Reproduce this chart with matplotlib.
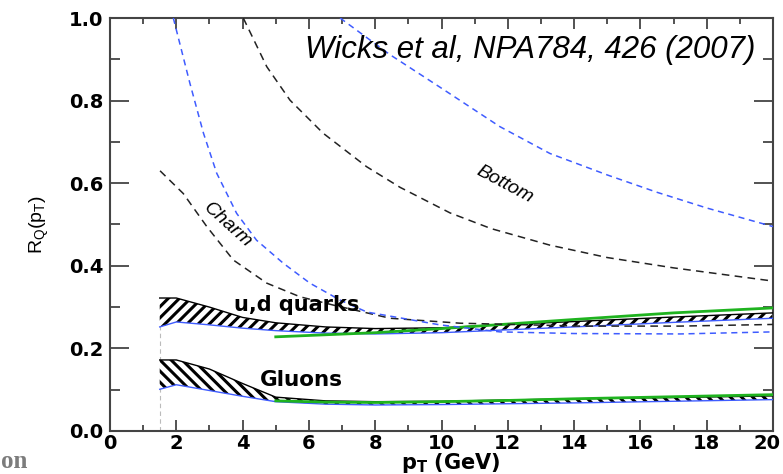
import matplotlib
matplotlib.use('Agg')
import matplotlib.pyplot as plt
import matplotlib.transforms as mtransforms
from matplotlib.ticker import MultipleLocator, FormatStrFormatter

plt.rcParams['font.family'] = ['Liberation Sans', 'DejaVu Sans']
plt.rcParams['hatch.linewidth'] = 2.2
plt.rcParams['mathtext.fontset'] = 'custom'
plt.rcParams['mathtext.rm'] = 'DejaVu Sans:bold'

# ---------------- data ----------------
charm_black_x = [1.51, 2.21, 2.92, 3.72, 4.73, 5.73, 6.73, 8.45, 10.56, 14.2, 17.2, 20.0]
charm_black_y = [0.630, 0.575, 0.495, 0.414, 0.358, 0.325, 0.305, 0.273, 0.261, 0.254, 0.254, 0.258]

charm_blue_x = [1.91, 2.41, 2.82, 3.22, 3.82, 4.42, 5.23, 6.03, 6.94, 7.75, 9.95, 11.76, 14.0, 17.2, 20.0]
charm_blue_y = [1.000, 0.842, 0.721, 0.624, 0.527, 0.462, 0.406, 0.358, 0.317, 0.288, 0.257, 0.240, 0.236, 0.235, 0.240]

bottom_black_x = [4.02, 4.73, 5.43, 6.43, 7.74, 8.75, 10.26, 11.5, 13.27, 15.0, 17.0, 20.0]
bottom_black_y = [1.000, 0.882, 0.801, 0.721, 0.640, 0.590, 0.528, 0.490, 0.450, 0.420, 0.395, 0.363]

bottom_blue_x = [6.94, 8.45, 10.0, 11.76, 13.27, 15.0, 16.5, 18.0, 20.0]
bottom_blue_y = [1.000, 0.911, 0.830, 0.737, 0.672, 0.620, 0.578, 0.540, 0.495]

band_x = [1.5, 2.0, 3.0, 4.0, 5.0, 6.5, 8.0, 10.0, 12.0, 14.0, 17.0, 20.0]
ud_upper = [0.322, 0.322, 0.300, 0.275, 0.262, 0.252, 0.248, 0.250, 0.258, 0.265, 0.276, 0.286]
ud_lower = [0.252, 0.264, 0.257, 0.249, 0.243, 0.237, 0.235, 0.238, 0.245, 0.252, 0.263, 0.273]
gl_upper = [0.172, 0.172, 0.150, 0.115, 0.082, 0.073, 0.071, 0.072, 0.075, 0.078, 0.081, 0.085]
gl_lower = [0.101, 0.112, 0.098, 0.084, 0.071, 0.065, 0.063, 0.064, 0.066, 0.068, 0.072, 0.076]

ud_green_x = [5.0, 8.0, 10.0, 12.0, 14.0, 17.0, 20.0]
ud_green_y = [0.228, 0.238, 0.248, 0.259, 0.270, 0.286, 0.298]
gl_green_x = [5.0, 6.5, 8.0, 10.0, 12.0, 14.0, 17.0, 20.0]
gl_green_y = [0.073, 0.070, 0.069, 0.071, 0.074, 0.078, 0.083, 0.088]

cut_x = [1.5, 1.5]
cut_y = [0.0, 0.257]

x_ticks = [0, 2, 4, 6, 8, 10, 12, 14, 16, 18, 20]
y_ticks = [0.0, 0.2, 0.4, 0.6, 0.8, 1.0]

# ---------------- figure ----------------
W, H = 783, 474
fig = plt.figure(figsize=(W / 100, H / 100), dpi=100)
ax = fig.add_axes([110 / W, 43 / H, 663 / W, 413 / H])

blue = '#3f5cff'
green = '#1fb31f'

ax.plot(cut_x, cut_y, color='#bbbbbb', lw=0.8, ls=(0, (4, 3)), zorder=1)

ax.fill_between(band_x, ud_lower, ud_upper, facecolor='white', edgecolor='black',
                hatch='///', linewidth=0, zorder=2)
ax.fill_between(band_x, gl_lower, gl_upper, facecolor='white', edgecolor='black',
                hatch='\\\\\\', linewidth=0, zorder=2)
ax.plot(band_x, ud_upper, color='black', lw=1.0, zorder=3)
ax.plot(band_x, gl_upper, color='black', lw=1.0, zorder=3)
ax.plot(band_x, ud_lower, color=blue, lw=1.0, zorder=3)
ax.plot(band_x, gl_lower, color=blue, lw=1.0, zorder=3)

ax.plot(ud_green_x, ud_green_y, color=green, lw=2.0, zorder=4)
ax.plot(gl_green_x, gl_green_y, color=green, lw=2.0, zorder=4)

ax.plot(charm_black_x, charm_black_y, color='#222222', lw=1.1, ls=(0, (5, 3.5)), zorder=5)
ax.plot(bottom_black_x, bottom_black_y, color='#222222', lw=1.1, ls=(0, (5, 3.5)), zorder=5)
ax.plot(charm_blue_x, charm_blue_y, color=blue, lw=1.1, ls=(0, (4, 3)), zorder=5)
ax.plot(bottom_blue_x, bottom_blue_y, color=blue, lw=1.1, ls=(0, (4, 3)), zorder=5)

ax.set_xlim(0, 20)
ax.set_ylim(0, 1.0)
ax.set_xticks(x_ticks)
ax.set_yticks(y_ticks)
ax.xaxis.set_minor_locator(MultipleLocator(1))
ax.yaxis.set_minor_locator(MultipleLocator(0.1))
ax.yaxis.set_major_formatter(FormatStrFormatter('%.1f'))

for s in ax.spines.values():
    s.set_color('#444444')
    s.set_linewidth(1.5)

ax.tick_params(which='both', direction='in', top=True, right=True, color='#444444', width=1.3)
ax.tick_params(axis='x', which='major', length=8, pad=2)
ax.tick_params(axis='x', which='minor', length=4)
ax.tick_params(axis='y', which='major', length=13.5, pad=5)
ax.tick_params(axis='y', which='minor', length=7)
for lab in ax.get_xticklabels() + ax.get_yticklabels():
    lab.set_fontweight('bold')
    lab.set_fontsize(14)
    lab.set_family('DejaVu Sans')

# keep the last x tick label ("20") inside the canvas
last = ax.get_xticklabels()[-1]
last.set_transform(last.get_transform() +
                   mtransforms.ScaledTranslation(-6 / 100, 0, fig.dpi_scale_trans))

fig.text(451 / W, 1 - 463 / H, r'p$_\mathregular{T}$ (GeV)', ha='center', va='center',
         fontsize=15, fontweight='bold', family='DejaVu Sans')
fig.text(39 / W, 1 - 224 / H, r'R$_\mathregular{Q}$(p$_\mathregular{T}$)', ha='center', va='center',
         rotation=90, fontsize=14)

ax.text(19.46, 0.922, 'Wicks et al, NPA784, 426 (2007)', ha='right', va='center',
        fontsize=22.5, style='italic', zorder=6)
ax.text(3.56, 0.499, 'Charm', ha='center', va='center', rotation=-42,
        fontsize=14, style='italic', zorder=6)
ax.text(11.92, 0.596, 'Bottom', ha='center', va='center', rotation=-28,
        fontsize=14, style='italic', zorder=6)
ax.text(5.64, 0.305, 'u,d quarks', ha='center', va='center',
        fontsize=15, fontweight='bold', family='DejaVu Sans', zorder=6)
ax.text(5.76, 0.123, 'Gluons', ha='center', va='center',
        fontsize=15.5, fontweight='bold', family='DejaVu Sans', zorder=6)

fig.text(1 / W, 1 - 462 / H, 'on', ha='left', va='center', fontsize=18,
         fontweight='bold', color='#7c7c7c', family='Liberation Serif')

fig.savefig('out.png', dpi=100)
